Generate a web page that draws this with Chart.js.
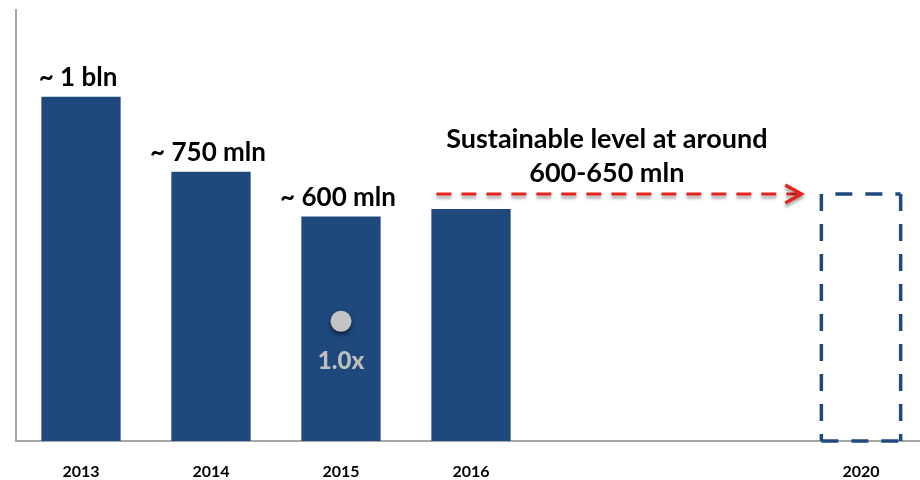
<!DOCTYPE html>
<html>
<head>
<meta charset="utf-8">
<script src="https://cdn.jsdelivr.net/npm/chart.js@4.4.1/dist/chart.umd.min.js"></script>
<style>
  html, body { margin: 0; padding: 0; background: #fff; overflow: hidden; }
  #wrap { width: 930px; height: 480px; }
</style>
</head>
<body>
<div id="wrap"><canvas id="chart" width="930" height="480"></canvas></div>
<script>
// ==========================
// Datos
// ==========================

const years = ['2013', '2014', '2015', '2016', '', '', '2020'];
const volumes = [1000, 750, 600, 625, null, null, null];
const sustainable = [null, null, null, null, null, null, 675];
const volumeLabels = ['~ 1 bln', '~ 750 mln', '~ 600 mln', '', '', '', ''];
const multiple = [null, null, 250, null, null, null, null];
const multipleLabels = ['', '', '1.0x', '', '', '', ''];
const arrowText = ['Sustainable level at around', '600-650 mln'];
const yMin = -150;
const yMax = 1290;

const AZUL = '#1f497d';
const ROJO = '#e5221b';
const GRIS = '#a6a6a6';
const FUENTE = 'Lato, "Open Sans", sans-serif';

// ==========================
// Plugin: textos, flecha y caja discontinua
// ==========================

const anotaciones = {
    id: 'anotaciones',
    beforeDatasetDraw(chart, args) {
        if (args.index === 2) {
            const ctx = chart.ctx;
            ctx.save();
            ctx.shadowColor = 'rgba(0,0,0,0.55)';
            ctx.shadowBlur = 5;
            ctx.shadowOffsetY = 3;
        }
    },
    afterDatasetDraw(chart, args) {
        if (args.index === 2) chart.ctx.restore();
    },
    afterDatasetsDraw(chart) {
        const ctx = chart.ctx;
        const y = chart.scales.y;
        const barras = chart.getDatasetMeta(0).data;
        const caja = chart.getDatasetMeta(1).data[6];
        const puntos = chart.getDatasetMeta(2).data;

        // Etiquetas sobre las barras
        ctx.save();
        ctx.font = 'bold 26px ' + FUENTE;
        ctx.fillStyle = '#000';
        ctx.textAlign = 'center';
        ctx.textBaseline = 'alphabetic';
        barras.forEach((b, i) => {
            if (volumeLabels[i]) ctx.fillText(volumeLabels[i], b.x - 3, b.y - 11);
        });

        // Etiqueta del múltiplo
        ctx.font = '900 24px ' + FUENTE;
        ctx.fillStyle = '#bfbfbf';
        ctx.textBaseline = 'middle';
        puntos.forEach((p, i) => {
            if (multipleLabels[i]) ctx.fillText(multipleLabels[i], p.x, p.y + 40);
        });
        ctx.restore();

        // Caja discontinua 2020
        ctx.save();
        ctx.strokeStyle = AZUL;
        ctx.lineWidth = 3.5;
        ctx.setLineDash([17, 13]);
        const izq = caja.x - caja.width / 2;
        const der = caja.x + caja.width / 2;
        ctx.beginPath();
        ctx.moveTo(izq, caja.y);
        ctx.lineTo(izq, caja.base);
        ctx.moveTo(der, caja.y);
        ctx.lineTo(der, caja.base);
        ctx.moveTo(izq + 14, caja.y);
        ctx.lineTo(der, caja.y);
        ctx.moveTo(izq, caja.base);
        ctx.lineTo(der, caja.base);
        ctx.stroke();
        ctx.restore();

        // Flecha roja discontinua
        const b16 = barras[3];
        const yFlecha = y.getPixelForValue(sustainable[6]);
        const x0 = b16.x - b16.width / 2 + 5;
        const x1 = izq - 20;
        ctx.save();
        ctx.shadowColor = 'rgba(0,0,0,0.35)';
        ctx.shadowBlur = 3;
        ctx.shadowOffsetY = 3;
        ctx.strokeStyle = ROJO;
        ctx.lineWidth = 3;
        ctx.setLineDash([15, 10]);
        ctx.beginPath();
        ctx.moveTo(x0, yFlecha);
        ctx.lineTo(x1 - 4, yFlecha);
        ctx.stroke();
        ctx.setLineDash([]);
        ctx.lineWidth = 3.5;
        ctx.beginPath();
        ctx.moveTo(x1 - 16, yFlecha - 9);
        ctx.lineTo(x1, yFlecha);
        ctx.lineTo(x1 - 16, yFlecha + 9);
        ctx.stroke();
        ctx.restore();

        // Texto de la flecha
        ctx.save();
        ctx.font = 'bold 27px ' + FUENTE;
        ctx.fillStyle = '#000';
        ctx.textAlign = 'center';
        ctx.textBaseline = 'alphabetic';
        const xc = (x0 + x1) / 2 - 12;
        ctx.fillText(arrowText[0], xc, yFlecha - 46);
        ctx.fillText(arrowText[1], xc, yFlecha - 12);
        ctx.restore();
    }
};

// ==========================
// Gráfico
// ==========================

new Chart(document.getElementById('chart'), {
    type: 'bar',
    data: {
        labels: years,
        datasets: [
            {
                data: volumes,
                backgroundColor: AZUL,
                base: yMin,
                grouped: false,
                order: 2,
                barPercentage: 0.61,
                categoryPercentage: 1
            },
            {
                data: sustainable,
                backgroundColor: 'rgba(0,0,0,0)',
                borderWidth: 0,
                base: yMin,
                grouped: false,
                order: 2,
                barPercentage: 0.61,
                categoryPercentage: 1
            },
            {
                type: 'line',
                data: multiple,
                order: 0,
                showLine: false,
                pointRadius: 10.5,
                pointBackgroundColor: '#c4c4c4',
                pointBorderWidth: 0
            }
        ]
    },
    options: {
        responsive: false,
        animation: false,
        layout: {
            autoPadding: false,
            padding: { top: 10, right: 4, left: 0, bottom: 0 }
        },
        plugins: {
            legend: { display: false },
            tooltip: { enabled: false }
        },
        scales: {
            x: {
                grid: { display: false },
                border: { color: GRIS, width: 2 },
                ticks: {
                    color: '#000',
                    padding: 13,
                    font: { family: FUENTE, size: 16, weight: 'bold' }
                },
                afterFit: s => { s.height = 39; }
            },
            y: {
                min: yMin,
                max: yMax,
                grid: { display: false },
                border: { color: GRIS, width: 2 },
                ticks: { display: false },
                afterFit: s => { s.width = 16; }
            }
        }
    },
    plugins: [anotaciones]
});
</script>
</body>
</html>
